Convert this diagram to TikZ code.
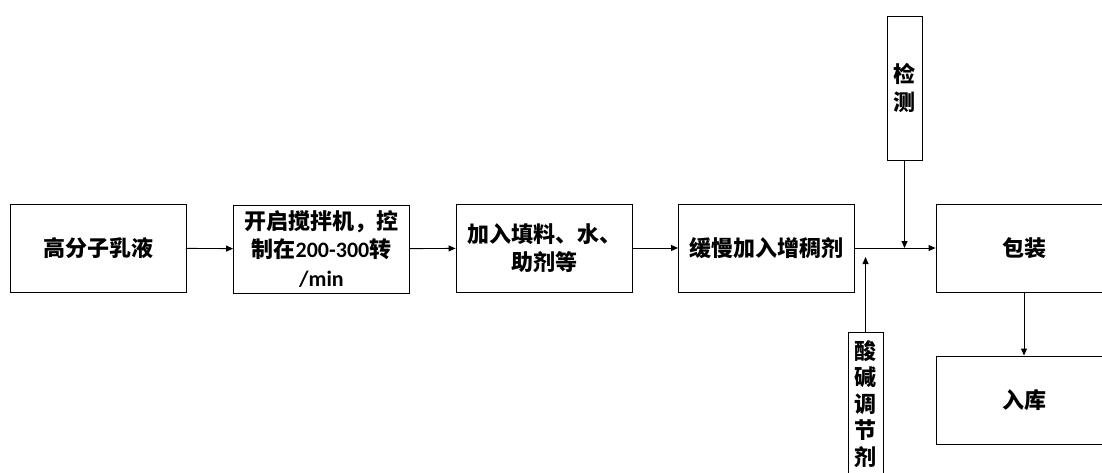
\documentclass[tikz,border=0pt]{standalone}
\usepackage{fontspec}
\usepackage{tikz}
\usetikzlibrary{arrows.meta, positioning}
\setmainfont{Carlito}
\newfontfamily\cjk{Noto Sans CJK SC}
\newfontfamily\lat{Carlito}[BoldFont={Carlito Bold}]

\tikzset{
  stepbox/.style={draw, line width=0.9pt, minimum width=176pt, minimum height=88pt,
    inner sep=0pt, align=center, font=\cjk\bfseries\fontsize{22}{28.5}\selectfont},
  sidebox/.style={stepbox, minimum width=35pt, minimum height=144pt},
  flow/.style={-{Triangle[length=7pt,width=6pt]}, line width=0.9pt}
}

\begin{document}
\begin{tikzpicture}[x=1pt, y=-1pt]
    \useasboundingbox (0,0) rectangle (1102,472);
    \clip (0,0) rectangle (1102,472);

    % Main process line
    \node[stepbox] (emulsion) at (98,248) {高分子乳液};
    \node[stepbox] (stir) at (321.5,249) {开启搅拌机，控\\制在{\lat\bfseries 200-300}转\\{\lat\bfseries /min}};
    \node[stepbox] (filler) at (544,248) {加入填料、水、\\助剂等};
    \node[stepbox] (thicken) at (766.5,248) {缓慢加入增稠剂};
    \node[stepbox] (pack) at (1024,248) {包装};
    \node[stepbox] (store) at (1024,400) {入库};

    % Side inputs
    \node[sidebox] (test) at (904.5,88) {检\\测};
    \node[sidebox, font=\cjk\bfseries\fontsize{22}{26.5}\selectfont] (phadj) at (865.5,404) {酸\\碱\\调\\节\\剂};

    \draw[flow] (emulsion) -- (stir);
    \draw[flow] (stir) -- (filler);
    \draw[flow] (filler) -- (thicken);
    \draw[flow] (thicken) -- (pack);
    \draw[flow] (pack) -- (store);

    \coordinate (testin) at (test.south |- pack.west);
    \draw[flow] (test) -- (testin);
    \draw[flow, shorten >=9pt] (phadj.north) -- (phadj.north |- pack.west);
\end{tikzpicture}
\end{document}
